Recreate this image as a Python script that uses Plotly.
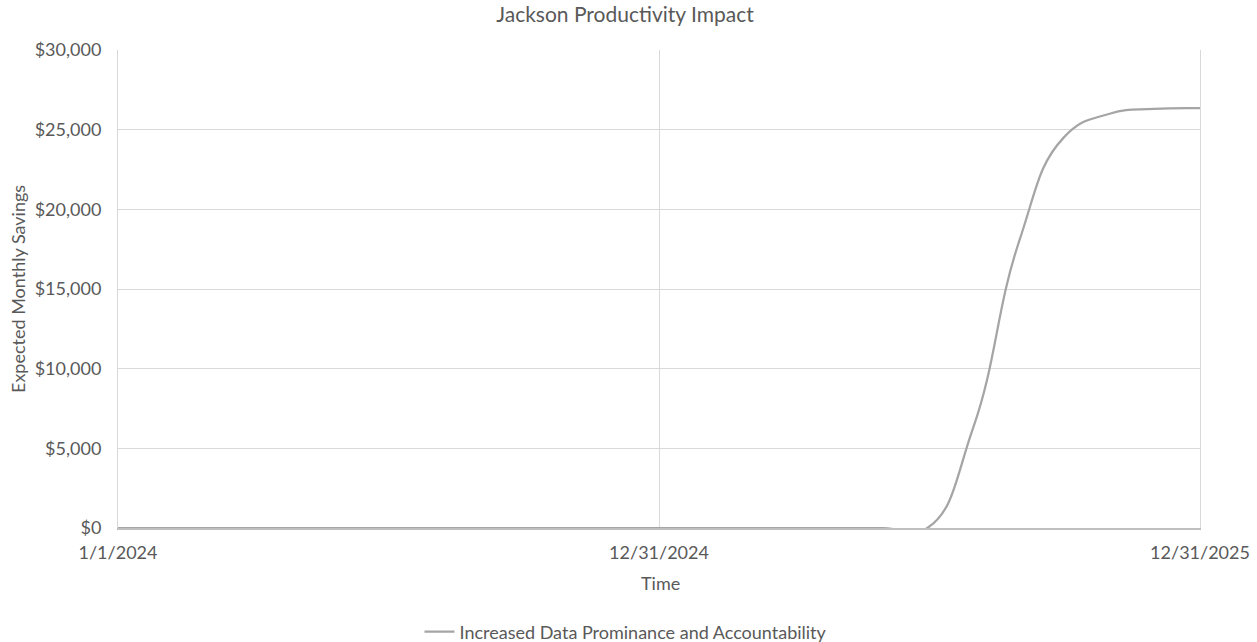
import plotly.graph_objects as go

# Monthly expected savings (first day, then each month end)
dates = [
    "2024-01-01", "2024-01-31", "2024-02-29", "2024-03-31", "2024-04-30",
    "2024-05-31", "2024-06-30", "2024-07-31", "2024-08-31", "2024-09-30",
    "2024-10-31", "2024-11-30", "2024-12-31", "2025-01-31", "2025-02-28",
    "2025-03-31", "2025-04-30", "2025-05-31", "2025-06-30", "2025-07-31",
    "2025-08-31", "2025-09-30", "2025-10-31", "2025-11-30", "2025-12-31",
]
savings = [
    0, 0, 0, 0, 0,
    0, 0, 0, 0, 0,
    0, 0, 0, 0, 0,
    0, 0, 0, 0, 6300,
    18000, 24500, 26000, 26300, 26350,
]
series_name = "Increased Data Prominance and Accountability"

x_tick_vals = ["2024-01-01", "2024-12-31", "2025-12-31"]
x_tick_text = ["1/1/2024", "12/31/2024", "12/31/2025"]

FONT = "Lato"
TEXT = "#595959"
GRID = "#D9D9D9"
W, H = 1257, 642
ML, MR, MT, MB = 118, 57, 50, 114
plot_w = W - ML - MR
plot_h = H - MT - MB

fig = go.Figure()
fig.add_trace(go.Scatter(
    x=dates, y=savings, name=series_name, mode="lines",
    line=dict(color="#A5A5A5", width=2.25, shape="spline", smoothing=1.3),
    showlegend=True,
))

fig.update_layout(
    width=W, height=H,
    margin=dict(l=ML, r=MR, t=MT, b=MB, autoexpand=False),
    paper_bgcolor="white", plot_bgcolor="white",
    font=dict(family=FONT, color=TEXT, size=18),
    title=dict(text="Jackson Productivity Impact", x=625 / W, xanchor="center",
               xref="container", y=1 - 15 / H, yanchor="middle",
               font=dict(size=21, color=TEXT, family=FONT)),
    legend=dict(orientation="h", x=(626 - ML) / plot_w, xanchor="center",
                y=-(632 - (H - MB)) / plot_h,
                yanchor="middle", font=dict(size=18, color=TEXT),
                itemwidth=30),
    showlegend=True,
    annotations=[
        dict(text="Time", xref="paper", yref="paper", x=(660 - ML) / plot_w,
             y=-(583 - (H - MB)) / plot_h, xanchor="center", yanchor="middle",
             showarrow=False, font=dict(size=18, color=TEXT)),
        dict(text="Expected Monthly Savings", xref="paper", yref="paper",
             x=-(ML - 18) / plot_w, y=0.5, textangle=-90,
             xanchor="center", yanchor="middle",
             showarrow=False, font=dict(size=18, color=TEXT)),
    ],
)

fig.update_xaxes(
    type="date", range=["2024-01-01", "2025-12-31"],
    tickmode="array", tickvals=x_tick_vals, ticktext=x_tick_text,
    showgrid=True, gridcolor=GRID, gridwidth=1,
    showline=True, linecolor="#BFBFBF", linewidth=1.5,
    ticks="", tickfont=dict(size=18, color=TEXT), ticklabelstandoff=8,
    automargin=False, fixedrange=True,
)
# vertical grid lines at both ends of the date range
fig.update_yaxes(
    range=[0, 30000], dtick=5000, tick0=0,
    tickprefix="$", tickformat=",",
    showgrid=True, gridcolor=GRID, gridwidth=1,
    zeroline=False, showline=True, linecolor=GRID, linewidth=1, mirror=True,
    ticks="", tickfont=dict(size=18, color=TEXT), ticklabelstandoff=12,
    automargin=False, fixedrange=True,
)

fig.write_html("out.html", config={"displayModeBar": False})
